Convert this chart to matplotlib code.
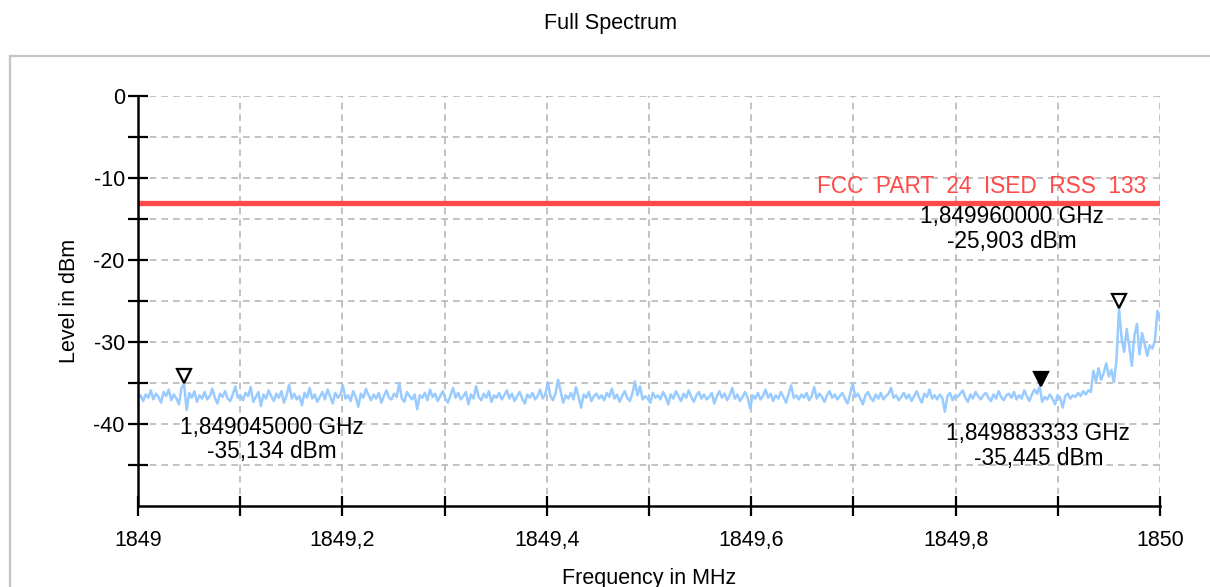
import numpy as np
import matplotlib
matplotlib.use("Agg")
import matplotlib.pyplot as plt
from matplotlib.patches import Rectangle
from matplotlib.transforms import ScaledTranslation

# ---------------- data ----------------
freq_start_mhz = 1849.0
freq_stop_mhz = 1850.0

level_dbm = [
    -36.9, -36.5, -37.2, -36.4, -36.8, -35.9, -37.0, -36.3, -36.7, -37.4, -36.1, -36.6, -35.8, -37.1, -36.4, -36.9, -37.6, -35.6, -35.1, -38.3,
    -36.2, -36.8, -36.0, -37.3, -36.5, -36.9, -36.1, -37.0, -36.6, -35.7, -36.8, -37.5, -36.3, -36.7, -36.0, -36.9, -37.2, -36.4, -35.4, -36.8,
    -36.5, -37.1, -36.2, -36.6, -35.5, -37.3, -36.7, -36.1, -37.8, -36.4, -36.9, -35.9, -36.6, -37.2, -36.3, -36.8, -36.0, -37.4, -36.5, -35.2,
    -36.9, -36.3, -37.0, -36.6, -37.7, -36.2, -36.8, -35.6, -36.9, -36.4, -37.3, -36.7, -36.1, -37.0, -35.8, -36.6, -37.5, -36.2, -36.8, -36.4,
    -35.3, -36.9, -36.5, -37.2, -36.0, -36.7, -37.9, -36.3, -36.8, -35.7, -36.5, -37.1, -36.4, -36.9, -36.2, -37.4, -36.6, -35.9, -36.8, -37.0,
    -36.3, -36.7, -35.0, -36.9, -37.3, -36.1, -36.6, -37.0, -36.4, -38.2, -36.5, -36.8, -36.2, -37.1, -35.8, -36.7, -36.3, -37.2, -36.6, -36.0,
    -36.9, -37.4, -36.5, -35.6, -36.8, -36.2, -37.0, -36.6, -36.1, -37.6, -36.4, -36.9, -35.4, -36.7, -37.1, -36.3, -36.8, -36.0, -37.3, -36.5,
    -36.8, -36.2, -37.0, -36.5, -35.9, -36.9, -36.3, -37.2, -36.6, -36.1, -36.9, -37.5, -36.4, -36.8, -36.2, -37.0, -36.6, -35.8, -36.9, -36.4,
    -34.9, -36.6, -37.1, -36.3, -34.6, -36.0, -37.4, -36.5, -36.9, -36.2, -37.0, -35.5, -36.7, -38.0, -36.4, -36.8, -36.1, -37.2, -36.6, -36.3,
    -36.9, -36.5, -37.1, -36.2, -36.7, -35.7, -36.9, -36.4, -37.3, -36.6, -36.0, -36.8, -37.2, -36.3, -34.8, -36.5, -35.4, -37.0, -36.6, -36.9,
    -37.4, -36.2, -36.8, -36.5, -37.0, -36.1, -36.7, -37.6, -36.4, -36.9, -36.0, -36.6, -37.2, -36.3, -36.8, -35.9, -36.7, -37.3, -36.5, -36.1,
    -36.9, -36.4, -37.0, -36.7, -36.2, -37.5, -36.6, -36.0, -36.8, -36.3, -37.1, -36.5, -35.6, -36.9, -36.4, -37.2, -36.7, -36.1, -36.8, -38.1,
    -36.5, -36.9, -36.2, -37.0, -36.6, -35.8, -36.8, -36.3, -37.2, -36.5, -36.9, -36.1, -36.7, -37.4, -36.3, -35.3, -36.8, -36.5, -37.0, -36.4,
    -36.8, -36.2, -37.1, -36.6, -35.5, -36.9, -36.3, -36.7, -37.3, -36.5, -36.0, -36.8, -36.4, -37.0, -36.6, -36.2, -36.9, -37.5, -36.4, -35.0,
    -36.7, -36.3, -36.9, -37.6, -36.5, -36.1, -36.8, -37.2, -36.4, -36.9, -36.2, -37.0, -36.6, -36.3, -35.6, -36.8, -36.5, -37.1, -36.7, -36.2,
    -36.9, -36.4, -37.2, -36.6, -36.0, -36.8, -37.4, -36.3, -36.7, -35.8, -36.9, -36.5, -37.0, -36.4, -36.8, -38.5, -36.6, -36.2, -37.1, -36.5,
    -36.7, -36.3, -35.9, -36.8, -37.3, -36.4, -36.9, -36.1, -36.6, -37.0, -36.5, -36.2, -36.8, -37.2, -36.4, -36.9, -36.0, -36.7, -37.1, -36.5,
    -36.3, -36.8, -36.1, -37.0, -36.5, -36.9, -35.9, -36.6, -37.2, -36.4, -35.8, -36.3, -35.4, -37.3, -36.7, -37.0, -36.4, -36.9, -37.6, -36.5,
    -36.8, -38.0, -36.6, -36.3, -36.9, -36.5, -36.7, -36.2, -36.6, -36.0, -36.4, -35.9, -36.1, -33.5, -34.8, -33.2, -34.6, -33.8, -32.6, -34.2,
    -33.4, -34.9, -32.3, -25.9, -29.5, -31.2, -28.4, -30.6, -32.9, -29.2, -27.8, -31.5, -28.9, -30.2, -31.7, -30.4, -30.8, -29.9, -26.2, -27.4,
]

limit_name = "FCC  PART  24  ISED  RSS  133"
limit_dbm = -13.0

marker_freq_mhz = [1849.045, 1849.96, 1849.883333]
marker_level_dbm = [-35.134, -25.903, -35.445]
marker_filled = [False, False, True]
marker_labels = [
    "1,849045000 GHz\n-35,134 dBm",
    "1,849960000 GHz\n-25,903 dBm",
    "1,849883333 GHz\n-35,445 dBm",
]
marker_label_pos = [(1849.131, -41.9), (1849.855, -16.2), (1849.881, -42.7)]

x_ticks = [1849.0, 1849.2, 1849.4, 1849.6, 1849.8, 1850.0]
x_tick_labels = ["1849", "1849,2", "1849,4", "1849,6", "1849,8", "1850"]
y_ticks = [0, -10, -20, -30, -40]
y_tick_labels = ["0", "-10", "-20", "-30", "-40"]

# ---------------- figure ----------------
plt.rcParams["font.family"] = ["Liberation Sans", "DejaVu Sans"]
W, H = 1210, 587
fig = plt.figure(figsize=(W / 100, H / 100), dpi=100)
fig.patch.set_facecolor("white")

# outer frame
frame = Rectangle((10 / W, -0.05), 1.1, (H - 56) / H + 0.05, transform=fig.transFigure,
                  fill=False, edgecolor="#c4c4c4", linewidth=1.6, zorder=0)
fig.patches.append(frame)

fig.text(611 / W, 1 - 23 / H, "Full Spectrum", ha="center", va="center", fontsize=15.5)

ax = fig.add_axes([138 / W, 1 - 506 / H, (1160 - 138) / W, (506 - 96) / H])
ax.set_facecolor("none")

freqs = np.linspace(freq_start_mhz, freq_stop_mhz, len(level_dbm))
ax.plot(freqs, level_dbm, color="#99cbff", linewidth=1.8, zorder=3)

ax.axhline(limit_dbm, color="#ff4a4a", linewidth=3.8, zorder=4)
ax.text(1849.987, limit_dbm + 0.6, limit_name, color="#ff4a4a", ha="right", va="bottom",
        fontsize=16.3, zorder=5)

offset = ScaledTranslation(0, 5.5 / 72, fig.dpi_scale_trans)
for f, lv, filled, lab, pos in zip(marker_freq_mhz, marker_level_dbm, marker_filled,
                                   marker_labels, marker_label_pos):
    ax.plot([f], [lv], marker="v", markersize=10,
            markerfacecolor="black" if filled else "white",
            markeredgecolor="black", markeredgewidth=1.6, linestyle="none",
            transform=ax.transData + offset, zorder=6)
    ax.text(pos[0], pos[1], lab, ha="center", va="center", fontsize=16.3,
            linespacing=1.1, zorder=6)

ax.set_xlim(freq_start_mhz, freq_stop_mhz)
ax.set_ylim(-50, 0)

ax.set_xticks(np.arange(1849.0, 1850.0001, 0.1), minor=True)
ax.set_xticks(x_ticks)
ax.set_xticklabels(x_tick_labels, fontsize=15.5)
ax.set_yticks([0, -5, -10, -15, -20, -25, -30, -35, -40, -45], minor=True)
ax.set_yticks(y_ticks)
ax.set_yticklabels(y_tick_labels, fontsize=15.5)

ax.tick_params(axis="both", which="both", direction="inout", length=15, width=1.6, color="black")
ax.tick_params(axis="x", which="major", pad=10)
ax.tick_params(axis="y", which="major", pad=2)

ax.grid(True, which="both", color="#b8b8b8", linestyle=(0, (4, 3)), linewidth=1.2, zorder=1)
ax.set_axisbelow(True)

for s in ["top", "right"]:
    ax.spines[s].set_visible(False)
for s in ["left", "bottom"]:
    ax.spines[s].set_linewidth(1.8)
    ax.spines[s].set_zorder(7)

ax.set_xlabel("Frequency in MHz", fontsize=15.5, labelpad=12)
ax.set_ylabel("Level in dBm", fontsize=15.5, labelpad=10)

fig.savefig("out.png", dpi=100)
